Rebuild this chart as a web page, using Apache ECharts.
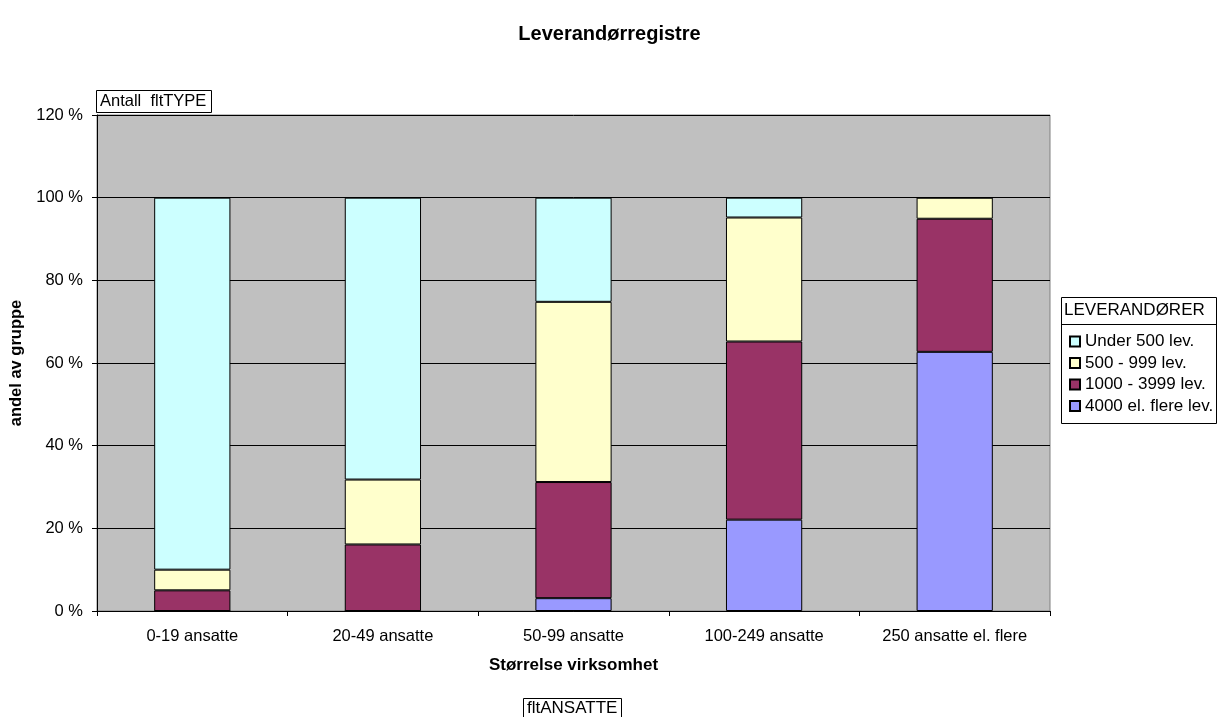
<!DOCTYPE html>
<html>
<head>
<meta charset="utf-8">
<script src="https://cdn.jsdelivr.net/npm/echarts@6/dist/echarts.min.js"></script>
<style>
html,body{margin:0;padding:0;background:#fff;}
#c{width:1219px;height:717px;}
</style>
</head>
<body>
<div id="c"></div>
<script>
var categories = ['0-19 ansatte', '20-49 ansatte', '50-99 ansatte', '100-249 ansatte', '250 ansatte el. flere'];
var s4000 = [0, 0, 3.1, 22.1, 62.7];
var s1000 = [5.0, 16.1, 28.1, 43.1, 32.2];
var s500 = [5.0, 15.7, 43.6, 30.0, 5.1];
var sUnder = [90.0, 68.2, 25.2, 4.8, 0];
var seriesNames = ['4000 el. flere lev.', '1000 - 3999 lev.', '500 - 999 lev.', 'Under 500 lev.'];
var legendOrder = ['Under 500 lev.', '500 - 999 lev.', '1000 - 3999 lev.', '4000 el. flere lev.'];
var colors = ['#9999FF', '#993366', '#FFFFCC', '#CCFFFF'];
var yTicks = [0, 20, 40, 60, 80, 100, 120];

var font = 'Liberation Sans, Arial, sans-serif';
var chart = echarts.init(document.getElementById('c'), null, {renderer: 'canvas'});
var datas = [s4000, s1000, s500, sUnder];
var series = datas.map(function (d, i) {
  return {
    name: seriesNames[i],
    type: 'bar',
    stack: 'total',
    barWidth: '40%',
    data: d,
    itemStyle: {color: colors[i], borderColor: '#000', borderWidth: 1},
    emphasis: {disabled: true}
  };
});
chart.setOption({
  animation: false,
  backgroundColor: '#fff',
  title: {
    text: 'Leverandørregistre',
    left: 'center',
    top: 19,
    textStyle: {fontFamily: font, fontSize: 20, fontWeight: 'bold', color: '#000'}
  },
  grid: {
    left: 97, right: 169, top: 115, bottom: 106,
    show: true, backgroundColor: '#C0C0C0', borderColor: '#808080', borderWidth: 1
  },
  legend: {
    orient: 'vertical',
    left: 1064,
    top: 328,
    data: legendOrder,
    itemWidth: 10,
    itemHeight: 10,
    itemGap: 4.5,
    icon: 'rect',
    selectedMode: false,
    textStyle: {fontFamily: font, fontSize: 17, color: '#000'}
  },
  xAxis: {
    type: 'category',
    data: categories,
    name: 'Størrelse virksomhet',
    nameLocation: 'middle',
    nameGap: 46,
    nameTextStyle: {fontFamily: font, fontSize: 17, fontWeight: 'bold', color: '#000'},
    axisLine: {lineStyle: {color: '#000', width: 1}},
    axisTick: {show: true, length: 5, alignWithLabel: false, lineStyle: {color: '#000'}},
    axisLabel: {fontFamily: font, fontSize: 16.5, color: '#000', margin: 17},
    splitLine: {show: false}
  },
  yAxis: {
    type: 'value',
    min: 0, max: 120, interval: 20,
    name: 'andel av gruppe',
    nameLocation: 'middle',
    nameGap: 69,
    nameTextStyle: {fontFamily: font, fontSize: 16.5, fontWeight: 'bold', color: '#000'},
    axisLine: {show: true, lineStyle: {color: '#000', width: 1}},
    axisTick: {show: true, length: 5, inside: false, lineStyle: {color: '#000'}},
    axisLabel: {fontFamily: font, fontSize: 16.5, color: '#000', margin: 14,
      formatter: function (v) { return yTicks.indexOf(v) >= 0 ? v + ' %' : ''; }},
    splitLine: {show: true, lineStyle: {color: '#000', width: 1}}
  },
  series: series,
  graphic: [
    {type: 'rect', shape: {x: 96.5, y: 90.5, width: 115, height: 22},
      style: {fill: '#fff', stroke: '#000', lineWidth: 1}, z: 100},
    {type: 'text', x: 100, y: 93, style: {text: 'Antall  fltTYPE', font: '16.5px ' + font, fill: '#000'}, z: 101},
    {type: 'rect', shape: {x: 1061.5, y: 297.5, width: 155, height: 126},
      style: {fill: '#fff', stroke: '#000', lineWidth: 1}, z: 0},
    {type: 'line', shape: {x1: 1062, y1: 324.5, x2: 1216, y2: 324.5},
      style: {stroke: '#000', lineWidth: 1}, z: 1},
    {type: 'text', x: 1064, y: 302, style: {text: 'LEVERANDØRER', font: '17px ' + font, fill: '#000'}, z: 2},
    {type: 'rect', shape: {x: 523.5, y: 698.5, width: 98, height: 22},
      style: {fill: '#fff', stroke: '#000', lineWidth: 1}, z: 100},
    {type: 'text', x: 527, y: 700, style: {text: 'fltANSATTE', font: '17px ' + font, fill: '#000'}, z: 101}
  ]
});
</script>
</body>
</html>
